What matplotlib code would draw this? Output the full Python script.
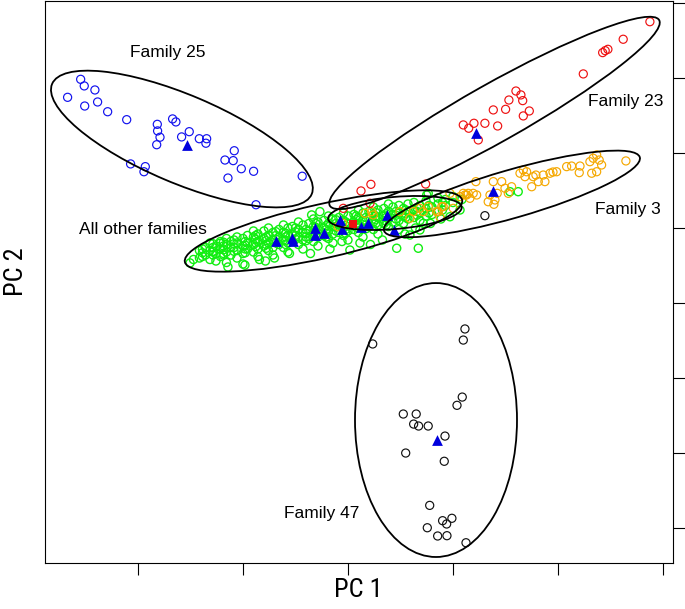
import matplotlib
matplotlib.use("Agg")
import matplotlib.pyplot as plt
from matplotlib.patches import Ellipse
from matplotlib import font_manager

# PCA scores (arbitrary units, same scale on both axes)
fam25_x = [-17.82, -17.58, -16.87, -18.69, -16.69, -17.55, -16.02, -14.75, -11.69, -11.47,
           -12.71, -12.69, -12.53, -12.75, -10.58, -11.09, -9.91, -9.42, -9.47, -7.58,
           -8.20, -7.65, -7.11, -6.29, -8.00, -14.49, -13.51, -13.60, -3.05, -6.13]
fam25_y = [14.91, 14.47, 14.20, 13.71, 13.40, 13.13, 12.75, 12.22, 12.27, 12.07,
           11.91, 11.47, 11.05, 10.55, 11.42, 11.07, 10.95, 10.95, 10.65, 10.15,
           9.53, 9.49, 8.95, 8.78, 8.33, 9.27, 9.09, 8.75, 8.45, 6.55]

fam23_x = [20.13, 18.35, 16.98, 17.15, 17.33, 15.69, 11.20, 11.53, 11.65, 10.73,
           10.51, 9.69, 12.09, 11.69, 7.69, 8.40, 8.05, 9.13, 9.98, 8.69,
           0.87, 1.53, 5.18, 1.47, -0.31]
fam23_y = [18.75, 17.58, 16.69, 16.82, 16.91, 15.27, 14.13, 13.87, 13.49, 13.53,
           12.91, 12.87, 12.80, 12.47, 11.87, 11.98, 11.65, 11.98, 11.80, 10.87,
           7.47, 7.91, 7.93, 6.65, 6.31]

fam3_x = [18.53, 16.58, 16.35, 16.75, 16.91, 16.13, 16.25, 16.58, 15.42, 14.91,
          15.47, 13.91, 13.47, 13.02, 13.13, 12.69, 12.53, 12.25, 11.91, 11.80,
          12.35, 10.25, 10.47, 10.91, 9.95, 10.69, 9.69, 9.47, 9.35, 9.80,
          9.73, 8.53, 8.58, 8.02, 7.80, 7.47, 8.13, 6.80, 6.25, 6.13,
          5.91, 5.35, 5.02, 4.80, 4.35, 4.13, 7.02, 11.47, 11.69, 13.67,
          14.58, 7.69, -0.65, -0.35, 1.13, 1.58, 1.69, 3.47, 6.02, 6.35,
          7.91, 8.35]
fam3_y = [9.47, 9.87, 9.65, 9.53, 9.20, 9.42, 8.65, 8.75, 8.69, 9.13,
          9.13, 8.75, 8.65, 8.53, 8.09, 8.09, 8.53, 7.75, 8.75, 8.42,
          8.42, 8.09, 7.65, 7.75, 7.31, 7.31, 8.09, 7.20, 6.75, 6.87,
          6.58, 8.09, 7.20, 7.31, 7.20, 7.09, 6.98, 7.31, 6.42, 5.75,
          6.09, 6.42, 6.09, 6.31, 6.09, 5.65, 6.31, 8.65, 8.87, 8.73,
          9.09, 7.31, 5.09, 5.31, 5.98, 6.09, 5.87, 6.09, 6.09, 6.42,
          7.20, 7.31]

fam47_x = [7.80, 7.69, 1.65, 7.62, 7.27, 3.69, 4.55, 4.38, 4.71, 5.35,
           6.47, 3.85, 6.42, 5.45, 6.31, 6.93, 6.58, 5.29, 5.98, 6.60,
           7.87, 9.13]
fam47_y = [-1.73, -2.47, -2.73, -6.27, -6.82, -7.40, -7.40, -8.07, -8.20, -8.20,
           -8.87, -10.00, -10.55, -13.49, -14.51, -14.35, -14.73, -14.98, -15.53, -15.51,
           -15.98, 5.82]

other_x = [-10.3, -9.9, -9.9, -9.5, -9.5, -9.2, -9.2, -9.2, -8.8, -8.8,
           -8.8, -8.5, -8.5, -8.5, -8.1, -8.1, -8.1, -8.1, -7.8, -7.8,
           -7.8, -7.4, -7.4, -7.4, -7.4, -7.0, -7.0, -7.0, -7.0, -6.7,
           -6.7, -6.7, -6.3, -6.3, -6.3, -6.3, -6.0, -6.0, -6.0, -6.0,
           -5.6, -5.6, -5.6, -5.3, -5.3, -5.3, -5.3, -5.0, -5.0, -5.0,
           -5.0, -4.6, -4.6, -4.6, -4.3, -4.3, -4.3, -4.3, -4.0, -4.0,
           -4.0, -4.0, -3.7, -3.7, -3.7, -3.3, -3.3, -3.3, -3.3, -3.0,
           -3.0, -3.0, -3.0, -2.6, -2.6, -2.6, -2.3, -2.3, -2.3, -2.3,
           -2.0, -2.0, -2.0, -2.0, -1.6, -1.6, -1.6, -1.3, -1.3, -1.3,
           -1.3, -1.0, -1.0, -1.0, -1.0, -0.6, -0.6, -0.6, -0.3, -0.3,
           -0.3, -0.3, 0.0, 0.0, 0.0, 0.0, 0.4, 0.4, 0.4, 0.7,
           0.7, 0.7, 0.7, 1.0, 1.0, 1.0, 1.0, 1.4, 1.4, 1.4,
           1.7, 1.7, 1.7, 1.7, 2.0, 2.0, 2.0, 2.0, 2.4, 2.4,
           2.4, 2.7, 2.7, 2.7, 2.7, 3.0, 3.0, 3.0, 3.4, 3.4,
           3.4, 3.4, 3.7, 3.7, 3.7, 4.0, 4.0, 4.0, 4.4, 4.4,
           4.4, 4.8, 4.8, 4.8, 5.2, 5.2, 5.2, 5.6, 5.6, 6.0,
           6.0, 6.0, 6.5, 6.5, 7.0, 7.0, 7.6,
           -8.53, -8.31, -8.98, -6.87, 3.25, 4.69, 0.13, -10.53, -5.5, -2.5,
           1.5, -1.87, -2.42, 10.8, 11.35, 5.35, 5.25, 7.47, 6.8, 5.02,
           4.8, 4.13, 4.5, 5.5, 6.2, 3.8,
           -9.7, -9.7, -9.7, -9.0, -9.0, -9.0, -9.0, -8.3, -8.3, -8.3,
           -8.3, -7.6, -7.6, -7.6, -7.6, -6.85, -6.85, -6.85, -6.85, -6.15,
           -6.15, -6.15, -6.15, -5.45, -5.45, -5.45, -5.45, -4.8, -4.8, -4.8,
           -4.8, -4.15, -4.15, -4.15, -4.15, -3.5, -3.5, -3.5, -3.5, -2.8,
           -2.8, -2.8, -2.8, -2.15, -2.15, -2.15, -2.15, -1.45, -1.45, -1.45,
           -1.45, -0.8, -0.8, -0.8, -0.8, -0.15, -0.15, -0.15, -0.15, 0.55,
           0.55, 0.55, 0.55, 1.2, 1.2, 1.2, 1.2, 1.85, 1.85, 1.85,
           1.85, 2.55, 2.55, 2.55, 2.55, 3.2, 3.2, 3.2, 3.85, 3.85,
           3.85, 4.6, 4.6, 4.6, 5.4, 5.4, 6.3, 6.3,
           -5.9, -3.9, -1.2, 0.8, 2.3, -8.0, -4.9, -0.4]
other_y = [2.9, 3.5, 3.0, 3.2, 3.7, 2.9, 3.5, 4.0, 3.3, 3.8,
           2.8, 3.6, 4.1, 3.1, 3.4, 3.9, 2.7, 4.3, 3.7, 3.2,
           4.1, 3.5, 4.0, 4.4, 3.0, 3.8, 3.3, 4.3, 2.6, 4.0,
           3.6, 4.5, 3.9, 3.4, 4.4, 4.8, 4.1, 3.6, 4.6, 3.1,
           4.3, 3.8, 4.8, 4.0, 4.5, 3.5, 5.0, 4.2, 3.7, 4.7,
           3.2, 4.4, 3.9, 4.9, 4.2, 4.7, 3.7, 5.2, 4.5, 4.0,
           5.0, 3.4, 4.6, 4.1, 5.1, 4.4, 4.9, 3.9, 5.4, 4.7,
           4.2, 5.2, 3.6, 4.8, 4.3, 5.3, 4.6, 5.1, 4.1, 5.6,
           4.9, 4.4, 5.4, 3.8, 5.0, 4.5, 5.5, 4.8, 5.3, 4.3,
           5.8, 5.1, 4.6, 5.6, 4.0, 5.2, 4.7, 5.7, 5.0, 5.5,
           4.5, 6.0, 5.3, 4.8, 5.8, 4.2, 5.4, 4.9, 5.9, 5.2,
           5.7, 4.7, 6.2, 5.5, 5.0, 6.0, 4.4, 5.6, 5.1, 6.1,
           5.4, 5.9, 4.9, 6.4, 5.7, 5.2, 6.2, 4.6, 5.8, 5.3,
           6.3, 5.6, 6.1, 5.1, 6.6, 5.9, 5.4, 6.4, 6.0, 5.5,
           6.5, 4.9, 5.8, 6.3, 5.3, 6.1, 5.6, 6.6, 6.2, 5.7,
           6.7, 6.0, 6.5, 5.5, 6.3, 5.8, 6.8, 6.4, 5.9, 6.6,
           6.1, 7.0, 6.5, 6.9, 6.7, 7.1, 6.9,
           3.98, 3.2, 3.42, 2.53, 3.65, 3.65, 3.53, 2.67, 2.8, 3.3,
           3.9, 6.09, 5.87, 7.42, 7.42, 7.31, 7.2, 6.2, 5.75, 5.31,
           4.87, 4.53, 5.0, 5.3, 5.6, 4.6,
           3.1, 3.6, 3.35, 3.2, 3.7, 3.45, 3.95, 3.3, 3.8, 3.55,
           4.05, 3.45, 3.95, 3.7, 4.2, 3.6, 4.1, 3.85, 3.35, 3.75,
           4.25, 4.0, 4.5, 3.9, 4.4, 4.15, 3.65, 4.0, 4.5, 4.25,
           4.75, 4.15, 4.65, 4.4, 3.9, 4.25, 4.75, 4.5, 5.0, 4.4,
           4.9, 4.65, 4.15, 4.55, 5.05, 4.8, 5.3, 4.65, 5.15, 4.9,
           4.4, 4.8, 5.3, 5.05, 5.55, 4.9, 5.4, 5.15, 4.65, 5.05,
           5.55, 5.3, 5.8, 5.2, 5.7, 5.45, 4.95, 5.3, 5.8, 5.55,
           6.05, 5.45, 5.95, 5.7, 5.2, 5.6, 6.1, 5.85, 5.7, 6.2,
           5.95, 5.85, 6.35, 6.1, 6.0, 6.5, 6.2, 6.7,
           2.9, 3.3, 3.6, 4.0, 4.2, 2.4, 3.0, 4.1]

# family means (blue triangles)
mean_x = [-10.71, 8.53, 9.65, 5.95, -4.82, -3.73, -3.65, -2.20, -2.20, -1.60,
          -0.53, -0.42, 0.87, 1.35, 2.58, 3.07]
mean_y = [10.53, 11.31, 7.49, -9.13, 4.13, 4.31, 4.13, 4.98, 4.53, 4.65,
          5.53, 4.91, 5.09, 5.31, 5.87, 4.87]
square_x = [0.35]
square_y = [5.25]

# ellipses: centre x, centre y, semi-axis a, semi-axis b, angle (deg)
ell_cx = [-11.07, 9.77, 10.93, 5.87, -1.63, 3.13]
ell_cy = [10.93, 12.67, 7.27, -7.80, 4.80, 6.00]
ell_a = [9.40, 12.60, 8.87, 5.40, 9.47, 4.47]
ell_b = [2.93, 1.93, 1.60, 9.13, 1.80, 1.07]
ell_ang = [-23.0, 29.4, 16.0, 0.0, 12.6, 5.0]

labels = ["Family 25", "Family 23", "Family 3", "All other families", "Family 47"]
label_x = [-12.0, 18.53, 18.67, -13.67, -1.73]
label_y = [16.73, 13.40, 6.20, 4.87, -14.0]

font = "Liberation Sans"
names = {f.name for f in font_manager.fontManager.ttflist}
narrow = font
for cand in ["Liberation Sans Narrow", "Roboto Condensed", "DejaVu Sans Condensed", "Open Sans Condensed"]:
    if cand in names:
        narrow = cand
        break

fig = plt.figure(figsize=(6.85, 6.09), dpi=100)
ax = fig.add_axes([44.5 / 685, 46 / 609, 628.5 / 685, 562 / 609])

ms = 34
lw = 0.85
ax.scatter(other_x, other_y, s=ms, facecolors="none", edgecolors="#11ee11", linewidths=1.0, zorder=2)
ax.scatter(fam3_x, fam3_y, s=ms, facecolors="none", edgecolors="#f5a800", linewidths=lw, zorder=3)
ax.scatter(fam23_x, fam23_y, s=ms, facecolors="none", edgecolors="#ee1111", linewidths=lw, zorder=3)
ax.scatter(fam25_x, fam25_y, s=ms, facecolors="none", edgecolors="#1111ee", linewidths=lw, zorder=3)
ax.scatter(fam47_x, fam47_y, s=ms, facecolors="none", edgecolors="#111111", linewidths=lw, zorder=3)
ax.scatter(mean_x, mean_y, s=60, marker="^", color="#0000dd", linewidths=0, zorder=5)
ax.scatter(square_x, square_y, s=36, marker="s", color="#ee1111", linewidths=0, zorder=5)

for cx, cy, a, b, ang in zip(ell_cx, ell_cy, ell_a, ell_b, ell_ang):
    ax.add_patch(Ellipse((cx, cy), 2 * a, 2 * b, angle=ang, fill=False,
                         edgecolor="black", linewidth=1.3, zorder=6))

for t, x, y in zip(labels, label_x, label_y):
    ax.text(x, y, t, ha="center", va="center", fontsize=12.5, family=font, zorder=7)

ax.set_xlim(-20.23, 21.67)
ax.set_ylim(-17.33, 20.13)
ax.set_xticks([-14, -7, 0, 7, 14, 21])
ax.set_yticks([-15, -10, -5, 0, 5, 10, 15, 20])
ax.tick_params(axis="x", direction="out", length=8.5, width=0.8, labelbottom=False)
ax.tick_params(axis="y", direction="out", length=8.5, width=0.8, left=False, right=True,
               labelleft=False, labelright=False)
for sp in ax.spines.values():
    sp.set_linewidth(0.8)

fig.text(358 / 685, 1 - 590 / 609, "PC 1", ha="center", va="center", fontsize=19, family=narrow,
         stretch="condensed")
fig.text(16 / 685, 1 - 272 / 609, "PC 2", ha="center", va="center", fontsize=19, family=narrow,
         stretch="condensed", rotation=90)

fig.savefig("out.png", dpi=100)
